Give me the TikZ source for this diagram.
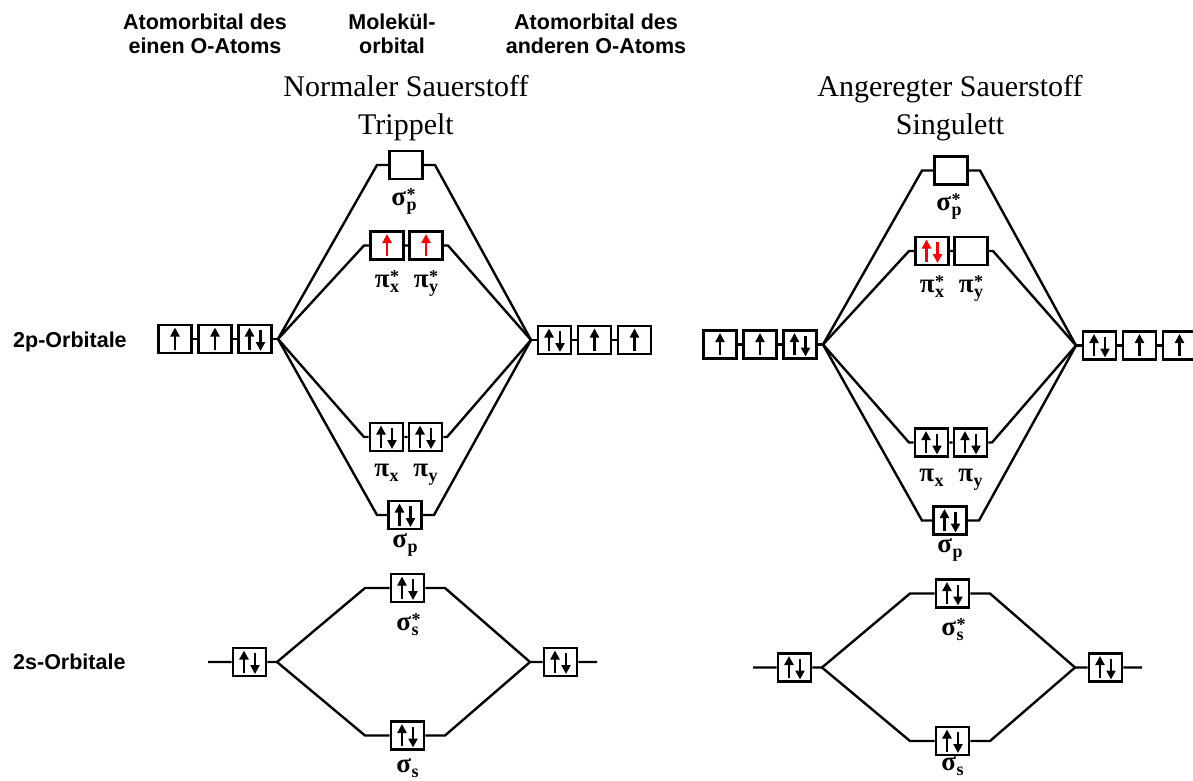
\documentclass[tikz,border=0pt]{standalone}
\usepackage{fontspec}
\setmainfont{Liberation Serif}
\newfontfamily\headfont{Liberation Sans}
\usetikzlibrary{arrows.meta}

% fonts for orbital names
\newcommand\mofont{\fontsize{27}{27}\selectfont\bfseries}
\newcommand\moscript{\fontsize{18}{18}\selectfont\bfseries}
% orbital name: symbol, subscript, superscript
\newcommand\mo[3]{#1\kern0.5pt\rlap{\raisebox{5pt}{\moscript #3}}\raisebox{-5pt}{\moscript #2}}

% electrons in a box
\newcommand\spinup[2][black]{%
  \draw[spin,#1] ([yshift=-10.5pt]#2.center) -- ([yshift=11.5pt]#2.center);}
\newcommand\spinpair[2][black]{%
  \draw[spin,#1] ([xshift=-5.5pt,yshift=-10.5pt]#2.center) -- ([xshift=-5.5pt,yshift=11.5pt]#2.center);
  \draw[spin,#1] ([xshift=5.5pt,yshift=9pt]#2.center) -- ([xshift=5.5pt,yshift=-12pt]#2.center);}

\tikzset{
  orb/.style={draw, line width=2.8pt, minimum width=33pt, minimum height=28pt,
              inner sep=0pt, fill=white},
  link/.style={line width=2.4pt},
  spin/.style={line width=2.8pt, -{Triangle[length=9pt,width=9pt]}},
  headtxt/.style={font=\headfont\bfseries\fontsize{21.5}{24}\selectfont, anchor=base, inner sep=0pt},
  titletxt/.style={font=\fontsize{30}{30}\selectfont, anchor=base, inner sep=0pt},
  molbl/.style={font=\mofont, anchor=base, inner sep=0pt}
}

% MO scheme of O2 without the pi* electrons
\newcommand\modiagram{%
  % junction points and line ends
  \coordinate (jl) at (278,339);
  \coordinate (jr) at (531,340);
  \coordinate (spsl) at (377,165);   \coordinate (spsr) at (435,165);
  \coordinate (pxsl) at (364,245.5); \coordinate (pysr) at (448,245.5);
  \coordinate (pxl) at (364,437);    \coordinate (pyr) at (447,437);
  \coordinate (spl) at (377,515);    \coordinate (spr) at (434,515);
  \coordinate (s0) at (208,662);     \coordinate (s9) at (597,662);
  \coordinate (j2l) at (277,662);    \coordinate (j2r) at (530,662);
  \coordinate (sssl) at (365,588);   \coordinate (sssr) at (445,588);
  \coordinate (ssl) at (365,735.5);  \coordinate (ssr) at (445,735.5);
  % 2p atomic orbitals
  \node[orb] (a1) at (175,339) {};
  \node[orb] (a2) at (215,339) {};
  \node[orb] (a3) at (255,339) {};
  \node[orb] (b1) at (554.5,340) {};
  \node[orb] (b2) at (594.5,340) {};
  \node[orb] (b3) at (634.5,340) {};
  % molecular orbitals from 2p
  \node[orb] (sps) at (406,165) {};
  \node[orb] (pxs) at (387,245.5) {};
  \node[orb] (pys) at (426,245.5) {};
  \node[orb] (px) at (386.5,437) {};
  \node[orb] (py) at (425.5,437) {};
  \node[orb] (sp) at (405,515) {};
  % 2s levels
  \node[orb] (sl) at (249.5,662) {};
  \node[orb] (sss) at (407.5,588) {};
  \node[orb] (ss) at (407.5,735.5) {};
  \node[orb] (sr) at (560.5,662) {};
  % correlation lines
  \draw[link] (a1) -- (a2) -- (a3) -- (jl);
  \draw[link] (jr) -- (b1) -- (b2) -- (b3);
  \draw[link] (jl) -- (spsl) -- (sps) -- (spsr) -- (jr);
  \draw[link] (jl) -- (pxsl) -- (pxs) -- (pys) -- (pysr) -- (jr);
  \draw[link] (jl) -- (pxl) -- (px) -- (py) -- (pyr) -- (jr);
  \draw[link] (jl) -- (spl) -- (sp) -- (spr) -- (jr);
  \draw[link] (s0) -- (sl) -- (j2l) -- (sssl) -- (sss) -- (sssr) -- (j2r) -- (sr) -- (s9);
  \draw[link] (j2l) -- (ssl) -- (ss) -- (ssr) -- (j2r);
  % electrons
  \spinup{a1} \spinup{a2} \spinpair{a3}
  \spinpair{b1} \spinup{b2} \spinup{b3}
  \spinpair{px} \spinpair{py} \spinpair{sp}
  \spinpair{sl} \spinpair{sss} \spinpair{ss} \spinpair{sr}
  % orbital names
  \node[molbl] (lsps) at (404,205) {\mo{σ}{p}{*}};
  \node[molbl] (lpxs) at (387,287) {\mo{π}{x}{*}};
  \node[molbl] (lpys) at (426,287) {\mo{π}{y}{*}};
  \node[molbl] (lpx) at (386.5,476) {\mo{π}{x}{}};
  \node[molbl] (lpy) at (425.5,476) {\mo{π}{y}{}};
  \node[molbl] (lsp) at (405,547) {\mo{σ}{p}{}};
  \node[molbl] (lsss) at (407.5,630) {\mo{σ}{s}{*}};
}

\begin{document}
\begin{tikzpicture}[x=1pt,y=-1pt]
  \path[fill=white, use as bounding box] (0,0) rectangle (1193,780);

  % column heads
  \node[headtxt] (h1a) at (205,29) {Atomorbital des};
  \node[headtxt] (h1b) at (205,53) {einen O-Atoms};
  \node[headtxt] (h2a) at (392,29) {Molekül-};
  \node[headtxt] (h2b) at (392,53) {orbital};
  \node[headtxt] (h3a) at (596,29) {Atomorbital des};
  \node[headtxt] (h3b) at (596,53) {anderen O-Atoms};

  % row labels
  \node[headtxt, anchor=base west] (r2p) at (13,347) {2p-Orbitale};
  \node[headtxt, anchor=base west] (r2s) at (13,669) {2s-Orbitale};

  % titles
  \node[titletxt] (t1a) at (406,96) {Normaler Sauerstoff};
  \node[titletxt] (t1b) at (406,134) {Trippelt};
  \node[titletxt] (t2a) at (950,96) {Angeregter Sauerstoff};
  \node[titletxt] (t2b) at (950,134) {Singulett};

  % triplet oxygen
  \begin{scope}[name prefix=L-]
    \modiagram
    \spinup[red]{pxs} \spinup[red]{pys}
    \node[molbl] (lss) at (407.5,772) {\mo{σ}{s}{}};
  \end{scope}

  % singlet oxygen
  \begin{scope}[shift={(545,5.5)}, name prefix=R-]
    \modiagram
    \spinpair[red]{pxs}
    \node[molbl] (lss) at (407.5,765) {\mo{σ}{s}{}};
  \end{scope}
\end{tikzpicture}
\end{document}
